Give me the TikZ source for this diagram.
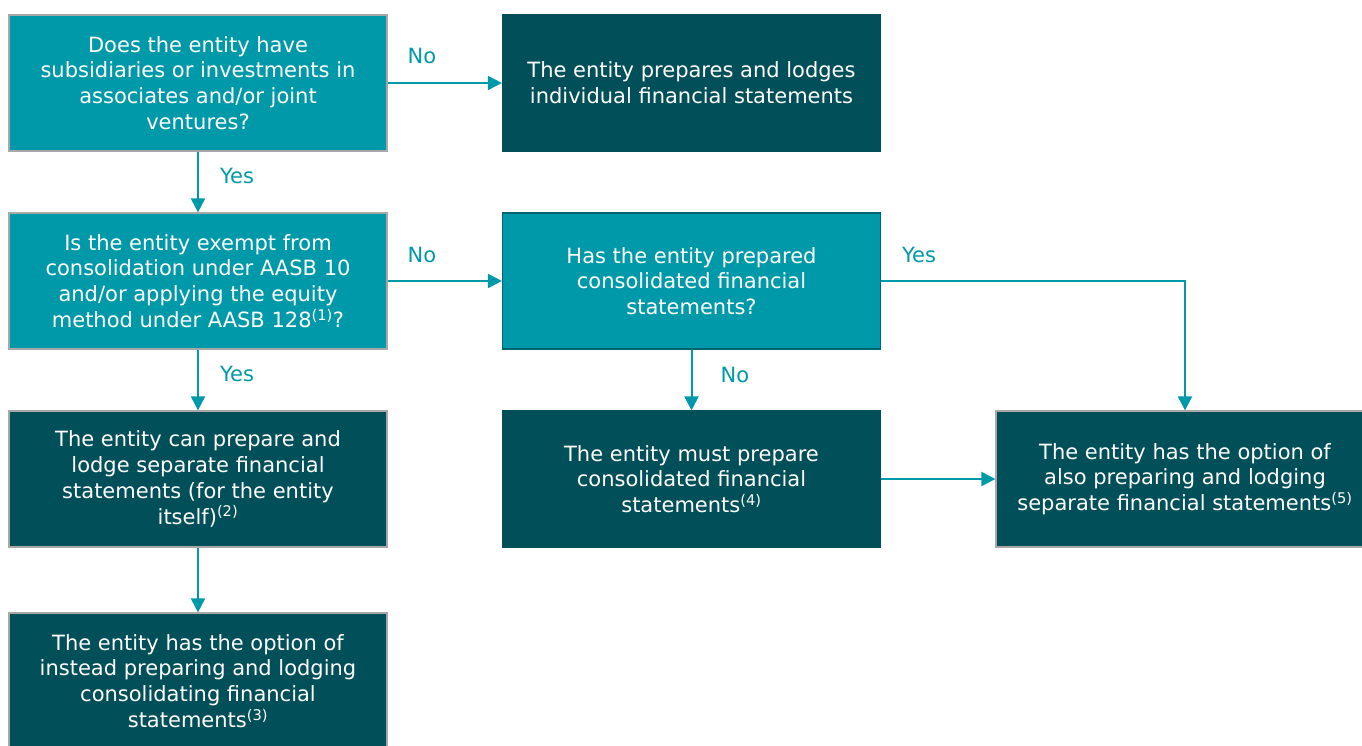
\documentclass[tikz,border=0pt]{standalone}
\usepackage{fontspec}
\setmainfont{DejaVu Sans}
\usetikzlibrary{arrows.meta}
\definecolor{lteal}{HTML}{0099A9}
\definecolor{dteal}{HTML}{004F59}
\definecolor{bgray}{HTML}{A8A8A8}
\begin{document}
\begin{tikzpicture}[x=1pt,y=-1pt,
  box/.style={rectangle, inner sep=0pt, text=white, align=center,
    font=\fontsize{21}{25.8}\selectfont, minimum width=378pt, minimum height=136pt},
  qbox/.style={box, fill=lteal, draw=bgray, line width=1.2pt},
  abox/.style={box, fill=dteal, draw=bgray, line width=1.2pt},
  arr/.style={draw=lteal, line width=2pt, -{Triangle[length=14pt,width=14pt]}},
  lbl/.style={text=lteal, font=\fontsize{21}{26}\selectfont, inner sep=0pt}]
\useasboundingbox (0,0) rectangle (1362,745);

\node[qbox] (A) at (198,83) {Does the entity have\\subsidiaries or investments in\\associates and/or joint\\ventures?};
\node[abox, draw=dteal] (B) at (691.5,83) {The entity prepares and lodges\\individual financial statements};
\node[qbox] (C) at (198,281) {Is the entity exempt from\\consolidation under AASB 10\\and/or applying the equity\\method under AASB 128\textsuperscript{(1)}?};
\node[qbox, draw=dteal!70!lteal] (D) at (691.5,281) {Has the entity prepared\\consolidated financial\\statements?};
\node[abox] (E) at (198,479) {The entity can prepare and\\lodge separate financial\\statements (for the entity\\itself)\textsuperscript{(2)}};
\node[abox, draw=dteal] (F) at (691.5,479) {The entity must prepare\\consolidated financial\\statements\textsuperscript{(4)}};
\node[abox] (G) at (1185,479) {The entity has the option of\\also preparing and lodging\\separate financial statements\textsuperscript{(5)}};
\node[abox] (H) at (198,681) {The entity has the option of\\instead preparing and lodging\\consolidating financial\\statements\textsuperscript{(3)}};

\draw[arr] (A) -- node[lbl, pos=0.3, yshift=27pt] {No} (B);
\draw[arr] (A) -- node[lbl, pos=0.4, xshift=39pt] {Yes} (C);
\draw[arr] (C) -- node[lbl, pos=0.3, yshift=26pt] {No} (D);
\draw[arr] (C) -- node[lbl, pos=0.4, xshift=39pt] {Yes} (E);
\draw[arr] (E) -- (H);
\draw[arr] (D.east) -| node[lbl, pos=0.0625, yshift=26pt] {Yes} (G.north);
\draw[arr] (D) -- node[lbl, pos=0.42, xshift=43.5pt] {No} (F);
\draw[arr] (F) -- (G);
\end{tikzpicture}
\end{document}
